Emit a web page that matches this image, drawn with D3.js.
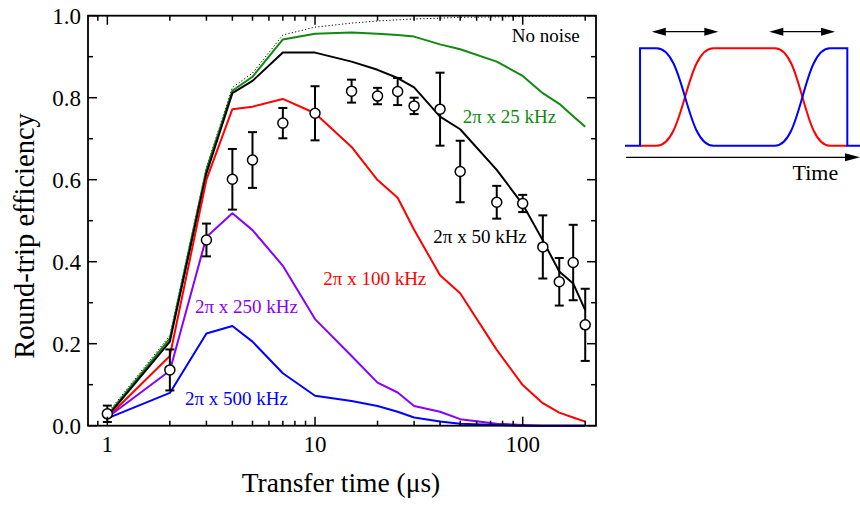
<!DOCTYPE html>
<html>
<head>
<meta charset="utf-8">
<script src="https://cdn.jsdelivr.net/npm/d3@7"></script>
<style>
  html, body { margin: 0; padding: 0; background: #fff; }
  svg { display: block; }
  text { font-family: "Liberation Serif", "Times New Roman", serif; }
</style>
</head>
<body>
<svg id="chart" width="860" height="507"></svg>
<script>
// ---------------- DATA ----------------
const times = [1, 2, 3, 4, 5, 7, 10, 15, 20, 25, 30, 40, 50, 75, 100, 125, 150, 175, 200];

const noNoise  = [0.030, 0.220, 0.630, 0.825, 0.860, 0.953, 0.972, 0.982, 0.987, 0.990, 0.992, 0.994, 0.996, 0.997, 0.998, 0.999, 0.999, 0.999, 1.000];
const noise25  = [0.025, 0.213, 0.625, 0.817, 0.851, 0.942, 0.956, 0.959, 0.956, 0.953, 0.949, 0.930, 0.918, 0.888, 0.853, 0.811, 0.785, 0.755, 0.729];
const noise50  = [0.022, 0.205, 0.615, 0.811, 0.841, 0.910, 0.910, 0.888, 0.868, 0.848, 0.825, 0.754, 0.723, 0.624, 0.540, 0.452, 0.376, 0.347, 0.282];
const noise100 = [0.020, 0.170, 0.600, 0.772, 0.778, 0.797, 0.762, 0.680, 0.599, 0.556, 0.478, 0.367, 0.323, 0.185, 0.099, 0.055, 0.032, 0.020, 0.010];
const noise250 = [0.020, 0.134, 0.460, 0.518, 0.477, 0.390, 0.260, 0.170, 0.105, 0.081, 0.048, 0.034, 0.016, 0.005, 0.002, 0.000, 0.000, 0.000, 0.000];
const noise500 = [0.018, 0.080, 0.225, 0.243, 0.205, 0.128, 0.073, 0.060, 0.048, 0.034, 0.020, 0.010, 0.005, 0.002, 0.000, 0.000, 0.000, 0.000, 0.000];

const measTimes = [1, 2, 3, 4, 5, 7, 10, 15, 20, 25, 30, 40, 50, 75, 100, 125, 150, 175, 200];
const measValues = [0.029, 0.136, 0.453, 0.601, 0.648, 0.738, 0.762, 0.816, 0.804, 0.815, 0.780, 0.772, 0.620, 0.545, 0.542, 0.436, 0.351, 0.398, 0.246];
const measErrors = [0.020, 0.050, 0.040, 0.074, 0.068, 0.037, 0.066, 0.028, 0.020, 0.033, 0.020, 0.089, 0.075, 0.040, 0.021, 0.077, 0.058, 0.092, 0.088];

const yTicks = [0.0, 0.2, 0.4, 0.6, 0.8, 1.0];
const yMinorTicks = [0.1, 0.3, 0.5, 0.7, 0.9];
const xTicks = [1, 10, 100];
const xMinorTicks = [0.9, 2, 3, 4, 5, 6, 7, 8, 9, 20, 30, 40, 50, 60, 70, 80, 90, 200];

const seriesLabels = ["No noise", "2π x 25 kHz", "2π x 50 kHz", "2π x 100 kHz", "2π x 250 kHz", "2π x 500 kHz"];

// Inset schematic: pulse shapes (arbitrary time units 0..100, amplitude 0..1)
const insetBlue = [[0,0],[6.4,0],[6.4,1],[13.5,1],[37.6,0],[63.8,0],[87.2,1],[94.6,1],[94.6,0],[100,0]];
const insetRed  = [[6.4,0],[13.5,0],[37.6,1],[63.8,1],[87.2,0],[94.6,0]];
const insetArrows = [[11.4, 39.7], [61.4, 89.4]];

// ---------------- LAYOUT ----------------
const svg = d3.select("#chart");
const L = 88, R = 596, T = 15.7, B = 425.7;

const x = d3.scaleLog().domain([0.807, 225.4]).range([L, R]);
const y = d3.scaleLinear().domain([0, 1]).range([B, T]);

const series = [
  { name: seriesLabels[0], values: noNoise,  color: "#000", width: 1, dash: "1.2,2.2", lx: 511.7, ly: 41.7, lcolor: "#000" },
  { name: seriesLabels[1], values: noise25,  color: "#108a10", width: 2, dash: null, lx: 462.7, ly: 122.7, lcolor: "#108a10" },
  { name: seriesLabels[2], values: noise50,  color: "#000", width: 2, dash: null, lx: 433.3, ly: 243.3, lcolor: "#000" },
  { name: seriesLabels[3], values: noise100, color: "#ff0000", width: 2, dash: null, lx: 323.3, ly: 285, lcolor: "#ff0000" },
  { name: seriesLabels[4], values: noise250, color: "#8800ff", width: 2, dash: null, lx: 195, ly: 313.3, lcolor: "#8800ff" },
  { name: seriesLabels[5], values: noise500, color: "#0000ff", width: 2, dash: null, lx: 185, ly: 405, lcolor: "#0000ff" }
];

const line = d3.line().x(d => x(d[0])).y(d => y(d[1]));

const plot = svg.append("g");

series.forEach(s => {
  const pts = times.map((t, i) => [t, s.values[i]]);
  plot.append("path")
    .attr("d", line(pts))
    .attr("fill", "none")
    .attr("stroke", s.color)
    .attr("stroke-width", s.width)
    .attr("stroke-linejoin", "round")
    .attr("stroke-dasharray", s.dash);
});

// error bars
const meas = measTimes.map((t, i) => ({ t, v: measValues[i], e: measErrors[i] }));
const eb = plot.append("g").attr("stroke", "#000").attr("stroke-width", 2);
meas.forEach(d => {
  const cx = x(d.t);
  eb.append("line").attr("x1", cx).attr("x2", cx).attr("y1", y(d.v - d.e)).attr("y2", y(d.v + d.e));
  eb.append("line").attr("x1", cx - 4.5).attr("x2", cx + 4.5).attr("y1", y(d.v - d.e)).attr("y2", y(d.v - d.e));
  eb.append("line").attr("x1", cx - 4.5).attr("x2", cx + 4.5).attr("y1", y(d.v + d.e)).attr("y2", y(d.v + d.e));
});
plot.append("g").selectAll("circle").data(meas).join("circle")
  .attr("cx", d => x(d.t)).attr("cy", d => y(d.v)).attr("r", 5)
  .attr("fill", "#fff").attr("stroke", "#000").attr("stroke-width", 1.5);

// series labels
series.forEach(s => {
  svg.append("text").attr("x", s.lx).attr("y", s.ly)
    .attr("font-size", 19).attr("fill", s.lcolor).text(s.name);
});

// frame
svg.append("rect").attr("x", L).attr("y", T).attr("width", R - L).attr("height", B - T)
  .attr("fill", "none").attr("stroke", "#000").attr("stroke-width", 1.8);

// axes with inward ticks
const axG = svg.append("g").attr("stroke", "#000").attr("stroke-width", 1.5);
const majorLen = 9, minorLen = 5;
yTicks.forEach(v => {
  axG.append("line").attr("x1", L).attr("x2", L + majorLen).attr("y1", y(v)).attr("y2", y(v));
  axG.append("line").attr("x1", R).attr("x2", R - majorLen).attr("y1", y(v)).attr("y2", y(v));
});
yMinorTicks.forEach(v => {
  axG.append("line").attr("x1", L).attr("x2", L + minorLen).attr("y1", y(v)).attr("y2", y(v));
  axG.append("line").attr("x1", R).attr("x2", R - minorLen).attr("y1", y(v)).attr("y2", y(v));
});
xTicks.forEach(t => {
  axG.append("line").attr("x1", x(t)).attr("x2", x(t)).attr("y1", B).attr("y2", B - majorLen);
  axG.append("line").attr("x1", x(t)).attr("x2", x(t)).attr("y1", T).attr("y2", T + majorLen);
});
xMinorTicks.forEach(t => {
  axG.append("line").attr("x1", x(t)).attr("x2", x(t)).attr("y1", B).attr("y2", B - minorLen);
  axG.append("line").attr("x1", x(t)).attr("x2", x(t)).attr("y1", T).attr("y2", T + minorLen);
});

// tick labels
svg.append("g").selectAll("text").data(yTicks).join("text")
  .attr("x", 81).attr("y", d => y(d)).attr("dy", "0.35em")
  .attr("text-anchor", "end").attr("font-size", 23)
  .text(d => d3.format(".1f")(d));
svg.append("g").selectAll("text").data(xTicks).join("text")
  .attr("x", d => x(d)).attr("y", 452)
  .attr("text-anchor", "middle").attr("font-size", 23)
  .text(d => d);

// axis titles
svg.append("text").attr("x", 341).attr("y", 492).attr("text-anchor", "middle")
  .attr("font-size", 27.5).text("Transfer time (μs)");
svg.append("text").attr("transform", "translate(34,236) rotate(-90)")
  .attr("text-anchor", "middle").attr("font-size", 28.5).text("Round-trip efficiency");

// ---------------- INSET ----------------
const ix = d3.scaleLinear().domain([0, 100]).range([625, 860]);
const iy = d3.scaleLinear().domain([0, 1]).range([145.7, 48.3]);
const iline = d3.line().x(d => ix(d[0])).y(d => iy(d[1])).curve(d3.curveBumpX);
svg.append("path").attr("d", iline(insetRed)).attr("fill", "none")
  .attr("stroke", "#ff0000").attr("stroke-width", 2);
svg.append("path").attr("d", iline(insetBlue)).attr("fill", "none")
  .attr("stroke", "#0000ff").attr("stroke-width", 2);

function arrowHead(g, xTip, yTip, dir, len, half) {
  g.append("path")
    .attr("d", `M${xTip},${yTip} L${xTip - dir * len},${yTip - half} L${xTip - dir * len},${yTip + half} Z`)
    .attr("fill", "#000");
}
const arrG = svg.append("g");
insetArrows.forEach(a => {
  const x1 = ix(a[0]), x2 = ix(a[1]), yy = 31.7;
  arrG.append("line").attr("x1", x1 + 8).attr("x2", x2 - 8).attr("y1", yy).attr("y2", yy)
    .attr("stroke", "#000").attr("stroke-width", 1.3);
  arrowHead(arrG, x1, yy, -1, 14, 4);
  arrowHead(arrG, x2, yy, 1, 14, 4);
});
// time axis arrow
arrG.append("line").attr("x1", 626).attr("x2", 848).attr("y1", 157.3).attr("y2", 157.3)
  .attr("stroke", "#000").attr("stroke-width", 1.3);
arrowHead(arrG, 860, 157.3, 1, 15, 4);
svg.append("text").attr("x", 792.5).attr("y", 180).attr("font-size", 22).text("Time");
</script>
</body>
</html>
